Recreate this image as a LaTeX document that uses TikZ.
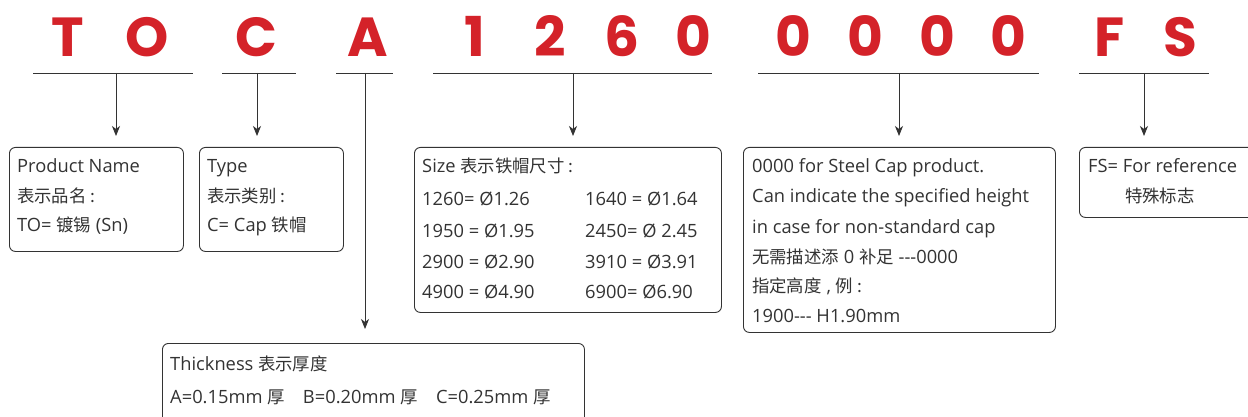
\documentclass[tikz,border=0pt]{standalone}
\usepackage{fontspec}
\setmainfont{Open Sans}
\newfontfamily\zh{Noto Sans CJK SC}[Scale=0.95]
\newfontfamily\codefont{Poppins}
\usetikzlibrary{arrows.meta}
\definecolor{codered}{HTML}{D42229}
\definecolor{txt}{HTML}{333333}
\newcommand{\tridash}{{-}{-}{-}}
\begin{document}
\begin{tikzpicture}[x=1pt,y=-1pt,
  letter/.style={font=\codefont\bfseries\fontsize{55}{55}\selectfont, text=codered, anchor=base, inner sep=0pt},
  box/.style={draw=txt, line width=0.9pt, rounded corners=6pt, inner sep=0pt, anchor=north west},
  ln/.style={anchor=base west, inner sep=0pt, font=\fontsize{18.3}{18.3}\selectfont, text=txt},
  conn/.style={draw=txt, line width=0.9pt, -{Stealth[length=10pt,width=8pt,inset=3pt]}},
  bar/.style={draw=txt, line width=0.9pt}]
\clip (0,0) rectangle (1248,417);
\fill[white] (0,0) rectangle (1248,417);
% code letters
\node[letter] (lT) at (68,57) {T};
\node[letter] (lO) at (147,57) {O};
\node[letter] (lC) at (256,57) {C};
\node[letter] (lA) at (368,57) {A};
\node[letter] (l1) at (475,57) {1};
\node[letter] (l2) at (550,57) {2};
\node[letter] (l6) at (622,57) {6};
\node[letter] (l0) at (693,57) {0};
\node[letter] (m1) at (793,57) {0};
\node[letter] (m2) at (865,57) {0};
\node[letter] (m3) at (937,57) {0};
\node[letter] (m4) at (1008,57) {0};
\node[letter] (lF) at (1110,57) {F};
\node[letter] (lS) at (1180,57) {S};
% bars
\coordinate (b1l) at (33,73); \coordinate (b1r) at (193,73); \coordinate (b1m) at (116,73);
\coordinate (b2l) at (222,73); \coordinate (b2r) at (296,73); \coordinate (b2m) at (257,73);
\coordinate (b3l) at (336,73); \coordinate (b3r) at (393,73); \coordinate (b3m) at (365,73);
\coordinate (b4l) at (433,73); \coordinate (b4r) at (712,73); \coordinate (b4m) at (573,73);
\coordinate (b5l) at (758,73); \coordinate (b5r) at (1039,73); \coordinate (b5m) at (899,73);
\coordinate (b6l) at (1079,73); \coordinate (b6r) at (1209,73); \coordinate (b6m) at (1144,73);
\foreach \i in {1,...,6} {\draw[bar] (b\i l) -- (b\i r);}
% boxes
\node[box, minimum width=174pt, minimum height=104pt] (pn) at (9,147) {};
\node[box, minimum width=144pt, minimum height=104pt] (ty) at (199,147) {};
\node[box, minimum width=307pt, minimum height=165pt] (sz) at (414,147) {};
\node[box, minimum width=312pt, minimum height=185pt] (ht) at (743,147) {};
\node[box, minimum width=190pt, minimum height=70pt] (fs) at (1079,147) {};
\node[box, minimum width=422pt, minimum height=90pt] (th) at (162,343) {};
% connectors
\draw[conn, shorten >=11pt] (b1m) -- (b1m |- pn.north);
\draw[conn, shorten >=11pt] (b2m) -- (b2m |- ty.north);
\draw[conn, shorten >=14pt] (b3m) -- (b3m |- th.north);
\draw[conn, shorten >=11pt] (b4m) -- (b4m |- sz.north);
\draw[conn, shorten >=11pt] (b5m) -- (b5m |- ht.north);
\draw[conn, shorten >=11pt] (b6m) -- (b6m |- fs.north);
% texts: product name
\node[ln] (pn1) at (17,173) {Product Name};
\node[ln] (pn2) at (17,202) {\zh 表示品名 :};
\node[ln] (pn3) at (17,231) {TO= {\zh 镀锡} (Sn)};
% type
\node[ln] (ty1) at (207,173) {Type};
\node[ln] (ty2) at (207,202) {\zh 表示类别 :};
\node[ln] (ty3) at (207,231) {C= Cap {\zh 铁帽}};
% size
\node[ln] (sz1) at (422,173) {Size {\zh 表示铁帽尺寸 :}};
\node[ln] (sz2) at (422,205) {1260= Ø1.26};
\node[ln] (sz3) at (585,205) {1640 = Ø1.64};
\node[ln] (sz4) at (422,237) {1950 = Ø1.95};
\node[ln] (sz5) at (585,237) {2450= Ø 2.45};
\node[ln] (sz6) at (422,268) {2900 = Ø2.90};
\node[ln] (sz7) at (585,268) {3910 = Ø3.91};
\node[ln] (sz8) at (422,298) {4900 = Ø4.90};
\node[ln] (sz9) at (585,298) {6900= Ø6.90};
% height
\node[ln] (ht1) at (752,173) {0000 for Steel Cap product.};
\node[ln] (ht2) at (752,203) {Can indicate the specified height};
\node[ln] (ht3) at (752,233) {in case for non-standard cap};
\node[ln] (ht4) at (752,263) {{\zh 无需描述添} 0 {\zh 补足} \tridash0000};
\node[ln] (ht5) at (752,292) {{\zh 指定高度} , {\zh 例 :}};
\node[ln] (ht6) at (752,322) {1900\tridash{} H1.90mm};
% FS
\node[ln] (fs1) at (1088,173) {FS= For reference};
\node[ln] (fs2) at (1125,203) {\zh 特殊标志};
% thickness
\node[ln] (th1) at (170,370) {Thickness {\zh 表示厚度}};
\node[ln] (th2) at (170,403) {A=0.15mm {\zh 厚}\quad B=0.20mm {\zh 厚}\quad C=0.25mm {\zh 厚}};
\end{tikzpicture}
\end{document}
